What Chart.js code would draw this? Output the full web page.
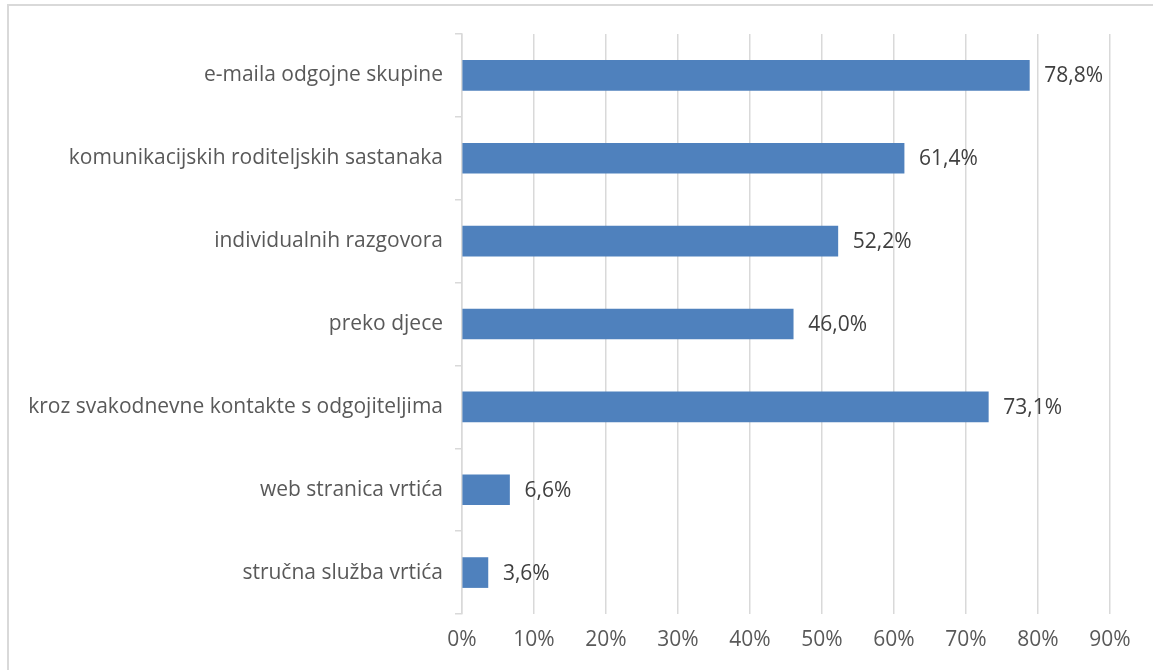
<!DOCTYPE html>
<html>
<head>
<meta charset="utf-8">
<script src="https://cdn.jsdelivr.net/npm/chart.js@4/dist/chart.umd.min.js"></script>
<style>
html,body{margin:0;padding:0;background:#fff;}
#wrap{position:relative;width:1153px;height:670px;overflow:hidden;}
#frame{position:absolute;left:7px;top:4px;width:1160px;height:680px;border:2px solid #d9d9d9;box-sizing:border-box;}
canvas{position:absolute;left:0;top:0;}
</style>
</head>
<body>
<div id="wrap">
<div id="frame"></div>
<canvas id="chart" width="1153" height="670"></canvas>
</div>
<script>
// kategorije od vrha prema dnu
let categories = [
"e-maila odgojne skupine",
"komunikacijskih roditeljskih sastanaka",
"individualnih razgovora",
"preko djece",
"kroz svakodnevne kontakte s odgojiteljima",
"web stranica vrtića",
"stručna služba vrtića"
]
let values = [78.8, 61.4, 52.2, 46.0, 73.1, 6.6, 3.6]
let xTicks = [0, 10, 20, 30, 40, 50, 60, 70, 80, 90]

let fontFamily = "'Open Sans', sans-serif"
let fontSize = 21

// vrijednosti na kraju stupaca
let valueLabels = {
id:"valueLabels",
afterDatasetsDraw(chart){
let ctx = chart.ctx
let meta = chart.getDatasetMeta(0)
ctx.save()
ctx.font = fontSize + "px " + fontFamily
ctx.fillStyle = "#404040"
ctx.textAlign = "left"
ctx.textBaseline = "middle"
meta.data.forEach((bar,i)=>{
ctx.fillText(values[i].toFixed(1).replace(".",",") + "%", bar.x + 15, bar.y + 1)
})
ctx.restore()
}
}

new Chart(document.getElementById("chart"),{
type:"bar",
data:{
labels:categories,
datasets:[{
data:values,
backgroundColor:"#4f81bd",
barThickness:30
}]
},
plugins:[valueLabels],
options:{
indexAxis:"y",
responsive:false,
animation:false,
layout:{padding:{top:34,right:43,bottom:0,left:0}},
plugins:{legend:{display:false},tooltip:{enabled:false}},
scales:{
x:{
min:0,max:90,
afterBuildTicks(scale){ scale.ticks = xTicks.map(v=>({value:v})) },
afterFit(scale){ scale.height = 56 },
grid:{color:"#d9d9d9",lineWidth:1.5,drawTicks:false},
border:{display:false},
ticks:{
color:"#595959",
font:{family:fontFamily,size:fontSize},
padding:13,
callback:v=>v+"%"
}
},
y:{
afterFit(scale){ scale.width = 462 },
grid:{color:"#d9d9d9",lineWidth:1.5,drawOnChartArea:false,drawTicks:true,tickLength:7,offset:true},
border:{display:true,color:"#d9d9d9",width:1.5},
ticks:{
color:"#595959",
font:{family:fontFamily,size:fontSize},
padding:12
}
}
}
}
})
</script>
</body>
</html>
